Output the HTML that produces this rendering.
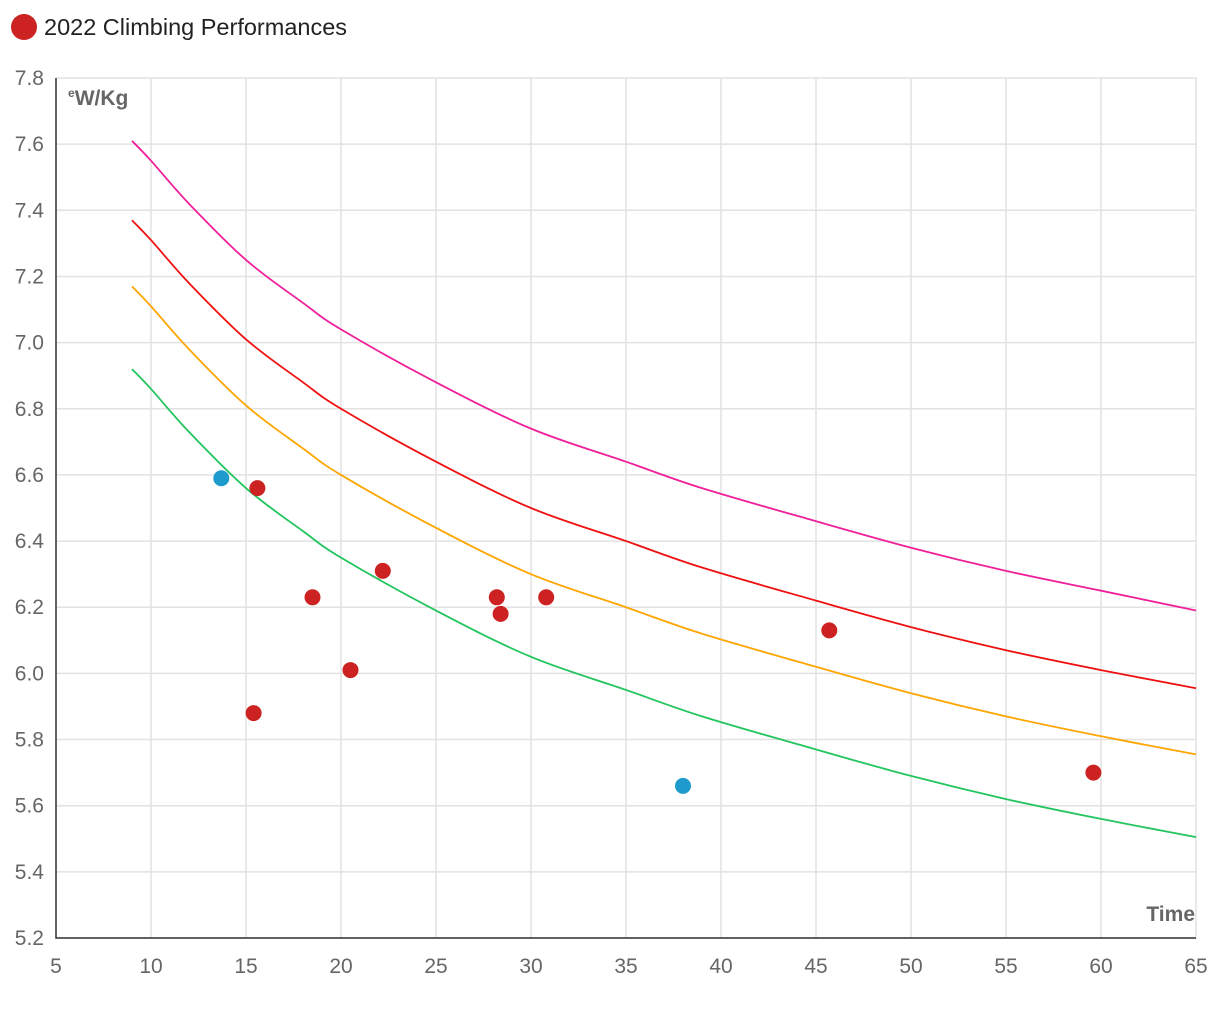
<!DOCTYPE html>
<html><head><meta charset="utf-8"><style>
body{margin:0;background:#fff;font-family:"Liberation Sans",sans-serif}
svg text{font-family:"Liberation Sans",sans-serif}
</style></head><body>
<svg id="chart" width="1220" height="1008" xmlns="http://www.w3.org/2000/svg">
<g>
<circle cx="24" cy="27" r="13" fill="#cc2222"/>
<text x="44" y="35" font-size="23.5" fill="#222">2022 Climbing Performances</text>
</g>
<g id="grid"></g>
<g id="axes"></g>
<g id="lines"></g>
<g id="points"></g>
<text x="68" y="105" font-size="21" font-weight="bold" fill="#666"><tspan font-size="12" dy="-8">e</tspan><tspan dy="8">W/Kg</tspan></text>
<text x="1195" y="921" font-size="21" font-weight="bold" fill="#666" text-anchor="end">Time</text>
</svg>
<script>
const xTicks=[5,10,15,20,25,30,35,40,45,50,55,60,65];
const yTicks=[5.2,5.4,5.6,5.8,6.0,6.2,6.4,6.6,6.8,7.0,7.2,7.4,7.6,7.8];
const curveX=[9,10,12,15,18,20,25,30,35,39,45,50,55,60,65];
const pinkY=[7.61,7.55,7.42,7.25,7.12,7.04,6.88,6.74,6.64,6.56,6.46,6.38,6.31,6.25,6.19];
const redY=[7.37,7.31,7.18,7.01,6.88,6.80,6.64,6.50,6.40,6.32,6.22,6.14,6.07,6.01,5.955];
const orangeY=[7.17,7.11,6.98,6.81,6.68,6.60,6.44,6.30,6.20,6.12,6.02,5.94,5.87,5.81,5.755];
const greenY=[6.92,6.86,6.73,6.56,6.43,6.35,6.19,6.05,5.95,5.87,5.77,5.69,5.62,5.56,5.505];
const redPtsX=[15.6,18.5,15.4,20.5,22.2,28.2,28.4,30.8,45.7,59.6];
const redPtsY=[6.56,6.23,5.88,6.01,6.31,6.23,6.18,6.23,6.13,5.70];
const bluePtsX=[13.7,38.0];
const bluePtsY=[6.59,5.66];
const X0=56,X1=1196,Y0=938,Y1=78;
const sx=v=>X0+(v-5)/60*(X1-X0);
const sy=v=>Y0-(v-5.2)/2.6*(Y0-Y1);
const NS="http://www.w3.org/2000/svg";
function mk(t,a,p){const e=document.createElementNS(NS,t);for(const k in a)e.setAttribute(k,a[k]);p.appendChild(e);return e;}
function smooth(pts){
 let d=`M${pts[0][0]},${pts[0][1]}`;
 for(let i=0;i<pts.length-1;i++){
  const p0=pts[i-1]||pts[i],p1=pts[i],p2=pts[i+1],p3=pts[i+2]||p2;
  const c1=[p1[0]+(p2[0]-p0[0])/6,p1[1]+(p2[1]-p0[1])/6];
  const c2=[p2[0]-(p3[0]-p1[0])/6,p2[1]-(p3[1]-p1[1])/6];
  d+=`C${c1[0]},${c1[1]} ${c2[0]},${c2[1]} ${p2[0]},${p2[1]}`;
 }
 return d;
}
const grid=document.getElementById('grid'),axes=document.getElementById('axes');
xTicks.forEach(t=>{
 const l=mk('line',{x1:sx(t),x2:sx(t),y1:Y1,y2:Y0,stroke:'#e2e2e2','stroke-width':1.5},grid);
 
 
 const tx=mk('text',{x:sx(t),y:973,'font-size':21,fill:'#666','text-anchor':'middle'},axes);
 tx.textContent=t;
 
 
});
yTicks.forEach(t=>{
 const l=mk('line',{x1:X0,x2:X1,y1:sy(t),y2:sy(t),stroke:'#e2e2e2','stroke-width':1.5},grid);
 
 
 const tx=mk('text',{x:44,y:sy(t)+7,'font-size':21,fill:'#666','text-anchor':'end'},axes);
 tx.textContent=t.toFixed(1);
 
 
});
const ax=mk('path',{d:`M${X0} ${Y1}V${Y0}H${X1}`,stroke:'#333','stroke-width':1.5,fill:'none'},axes);


const lines=document.getElementById('lines');
[[pinkY,'#f0209a','pink-curve'],[redY,'#ee1111','red-curve'],[orangeY,'#ffa500','orange-curve'],[greenY,'#22c55e','green-curve']].forEach(([ys,c,n])=>{
 const p=mk('path',{d:smooth(curveX.map((x,i)=>[sx(x),sy(ys[i])])),fill:'none',stroke:c,'stroke-width':1.8},lines);
 
 
});
const pts=document.getElementById('points');
redPtsX.forEach((x,i)=>{
 const c=mk('circle',{cx:sx(x),cy:sy(redPtsY[i]),r:8,fill:'#cc2222'},pts);
 
 
});
bluePtsX.forEach((x,i)=>{
 const c=mk('circle',{cx:sx(x),cy:sy(bluePtsY[i]),r:8,fill:'#1e9bcc'},pts);
 
 
});
</script>
</body></html>
